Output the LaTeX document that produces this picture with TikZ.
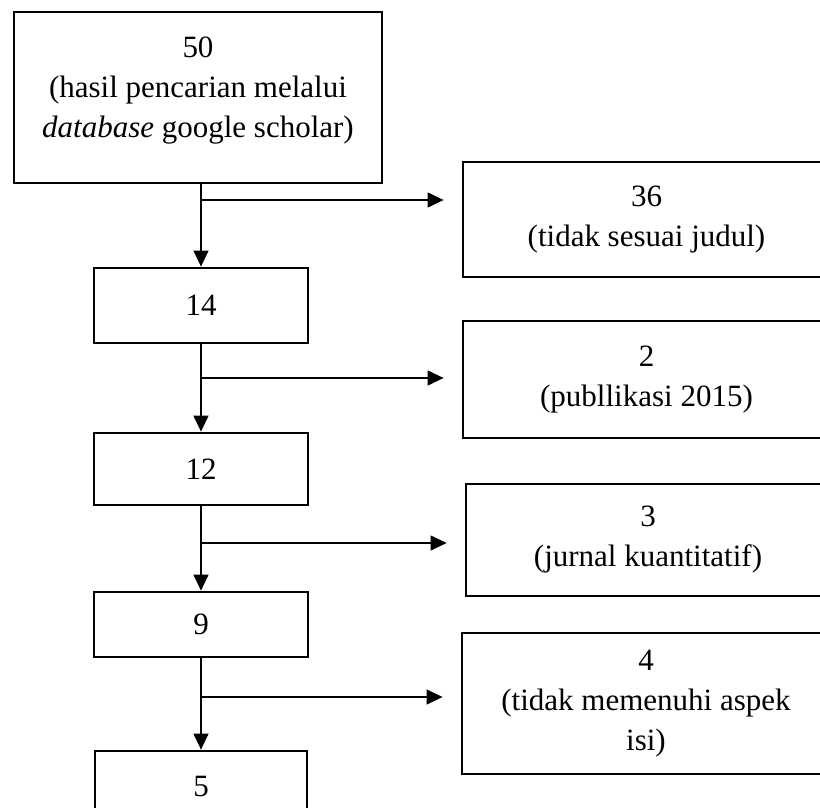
\documentclass[tikz,border=0pt]{standalone}
\usepackage{fontspec}
\setmainfont{Liberation Serif}
\usetikzlibrary{arrows.meta}
\begin{document}
\begin{tikzpicture}[x=1pt,y=-1pt,
                    box/.style={draw,line width=2.8pt,inner sep=0pt,align=center,
                                font=\fontsize{31}{40}\selectfont},
                    arr/.style={-{Triangle[length=16pt,width=15pt]},line width=1.3pt}]
\clip (0,0) rectangle (820,807);
\node[box,minimum width=368pt,minimum height=171pt] (50) at (198,97.5)
  {50\\(hasil pencarian melalui\\\emph{database} google scholar)\\[-20pt]};
\node[box,minimum width=214pt,minimum height=75pt] (14) at (201,305.5) {14};
\node[box,minimum width=214pt,minimum height=72pt] (12) at (201,469) {12};
\node[box,minimum width=214pt,minimum height=65pt] (9) at (201,624.5) {9};
\node[box,minimum width=212pt,minimum height=70pt] (5) at (201,786) {5};

\node[box,minimum width=367pt,minimum height=115pt] (36) at (646.5,219.5) {36\\(tidak sesuai judul)};
\node[box,minimum width=367pt,minimum height=117pt] (2) at (646.5,379.5) {2\\(publlikasi 2015)};
\node[box,minimum width=364pt,minimum height=112pt] (3) at (648,540) {3\\(jurnal kuantitatif)};
\node[box,minimum width=368pt,minimum height=141pt] (4) at (646,703.5) {4\\(tidak memenuhi aspek\\isi)};

\coordinate (c1) at (201,200);
\coordinate (c2) at (201,378);
\coordinate (c3) at (201,543);
\coordinate (c4) at (201,697);

\draw[arr] (50.south -| 14) -- (14);
\draw[arr] (14) -- (12);
\draw[arr] (12) -- (9);
\draw[arr] (9) -- (5);
\draw[arr,shorten >=18pt] (c1) -- (c1 -| 36.west);
\draw[arr,shorten >=18pt] (c2) -- (c2 -| 2.west);
\draw[arr,shorten >=18pt] (c3) -- (c3 -| 3.west);
\draw[arr,shorten >=18pt] (c4) -- (c4 -| 4.west);

\end{tikzpicture}
\end{document}
